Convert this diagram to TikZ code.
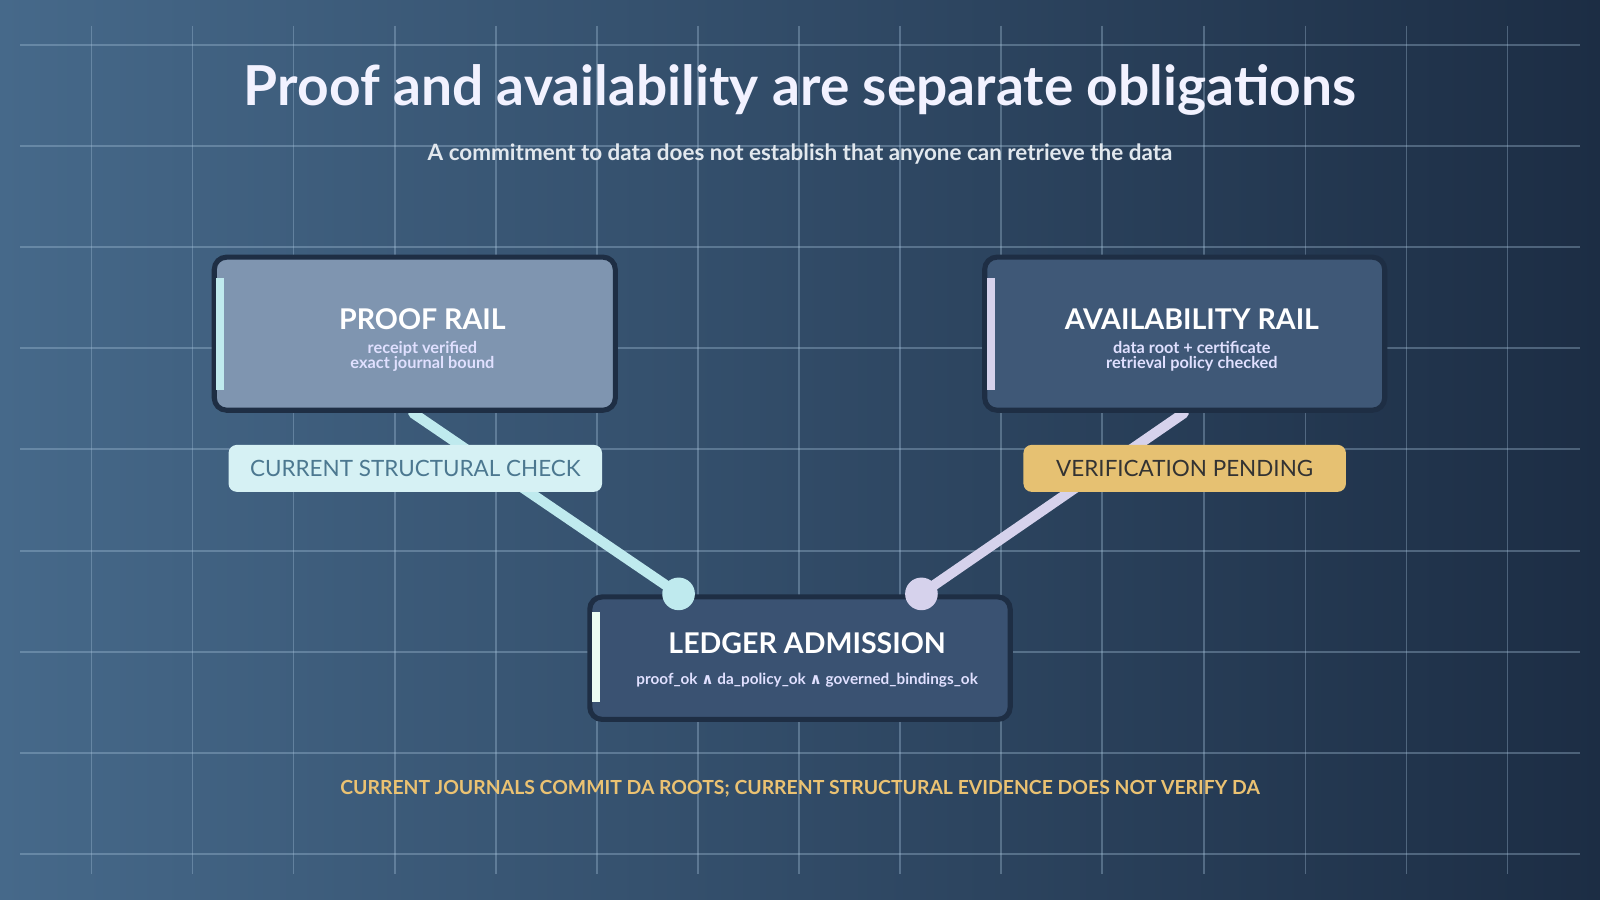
\documentclass[tikz,border=0pt]{standalone}
\usepackage{fontspec}
\setmainfont{Lato}
\newfontfamily\symf{DejaVu Sans}
\definecolor{bgA}{HTML}{46698A}
\definecolor{bgB}{HTML}{1C2D44}
\definecolor{gridc}{HTML}{A8C4DC}
\definecolor{boxP}{HTML}{7F95B0}
\definecolor{boxA}{HTML}{3F5877}
\definecolor{boxL}{HTML}{3A5272}
\definecolor{edge}{HTML}{1E2E44}
\definecolor{cyanL}{HTML}{BFEAEE}
\definecolor{lav}{HTML}{D6D2EC}
\definecolor{tagC}{HTML}{D6F1F4}
\definecolor{tagCt}{HTML}{4C7890}
\definecolor{tagY}{HTML}{E6C172}
\definecolor{foot}{HTML}{EBC272}
\definecolor{subt}{HTML}{E2E8EE}
\begin{document}
\begin{tikzpicture}[x=0.5pt,y=-0.5pt,
 box/.style={draw=edge,line width=2.5pt,rounded corners=6pt},
 tag/.style={rounded corners=4pt,minimum height=23pt,font=\fontsize{11}{13}\selectfont},
 conn/.style={line width=5pt,line cap=round},
 grid/.style={draw=gridc,opacity=0.35,line width=0.6pt}]
\shade[left color=bgA, right color=bgB] (0,0) rectangle (1568,882);
\useasboundingbox (0,0) rectangle (1568,882);
\foreach \x in {90,189,288,387,486,585,684,783,882,981,1080,1180,1279,1378,1477}
  \draw[grid] (\x,25) -- (\x,857);
\foreach \y in {44,143,242,341,440,540,639,738,837}
  \draw[grid] (20,\y) -- (1548,\y);
\node[text=white!95!blue,font=\fontsize{27}{31}\selectfont\bfseries] (title) at (784,88) {Proof and availability are separate obligations};
\node[text=subt,font=\fontsize{11}{14}\selectfont\bfseries] (sub) at (784,151) {A commitment to data does not establish that anyone can retrieve the data};
% connectors
\draw[conn,cyanL] (405,405) -- (665,582);
\draw[conn,lav] (1160,405) -- (903,582);
% boxes
\path[box,fill=boxP] (210,252) rectangle (603,402);
\fill[cyanL] (212,272) rectangle (220,382);
\path[box,fill=boxA] (965,252) rectangle (1357,402);
\fill[lav] (967,272) rectangle (975,382);
\path[box,fill=boxL] (578,585) rectangle (990,705);
\fill[cyanL!80!green!20] (580,600) rectangle (588,688);
\node[text=white,font=\fontsize{14}{16}\selectfont\bfseries] (pr) at (414,313) {PROOF RAIL};
\node[text=white!88!blue,font=\fontsize{8}{7.5}\selectfont\bfseries,align=center] (prs) at (414,349) {receipt verified\\exact journal bound};
\node[text=white,font=\fontsize{14}{16}\selectfont\bfseries] (ar) at (1168,313) {AVAILABILITY RAIL};
\node[text=white!88!blue,font=\fontsize{8}{7.5}\selectfont\bfseries,align=center] (ars) at (1168,349) {data root + certificate\\retrieval policy checked};
\node[text=white,font=\fontsize{14}{16}\selectfont\bfseries] (la) at (791,630) {LEDGER ADMISSION};
\node[text=white!88!blue,font=\fontsize{7.5}{9}\selectfont\bfseries] (las) at (791,667) {proof\_ok {\symf∧} da\_policy\_ok {\symf∧} governed\_bindings\_ok};
\fill[cyanL] (665,582) circle (16);
\fill[lav] (903,582) circle (16);
\node[tag,fill=tagC,text=tagCt,minimum width=183pt] (csc) at (407,459) {CURRENT STRUCTURAL CHECK};
\node[tag,fill=tagY,text=black!80,minimum width=158pt] (vp) at (1161,459) {VERIFICATION PENDING};
\node[text=foot,font=\fontsize{9.5}{11}\selectfont\bfseries] (foot) at (784,773) {CURRENT JOURNALS COMMIT DA ROOTS; CURRENT STRUCTURAL EVIDENCE DOES NOT VERIFY DA};
\end{tikzpicture}
\end{document}
